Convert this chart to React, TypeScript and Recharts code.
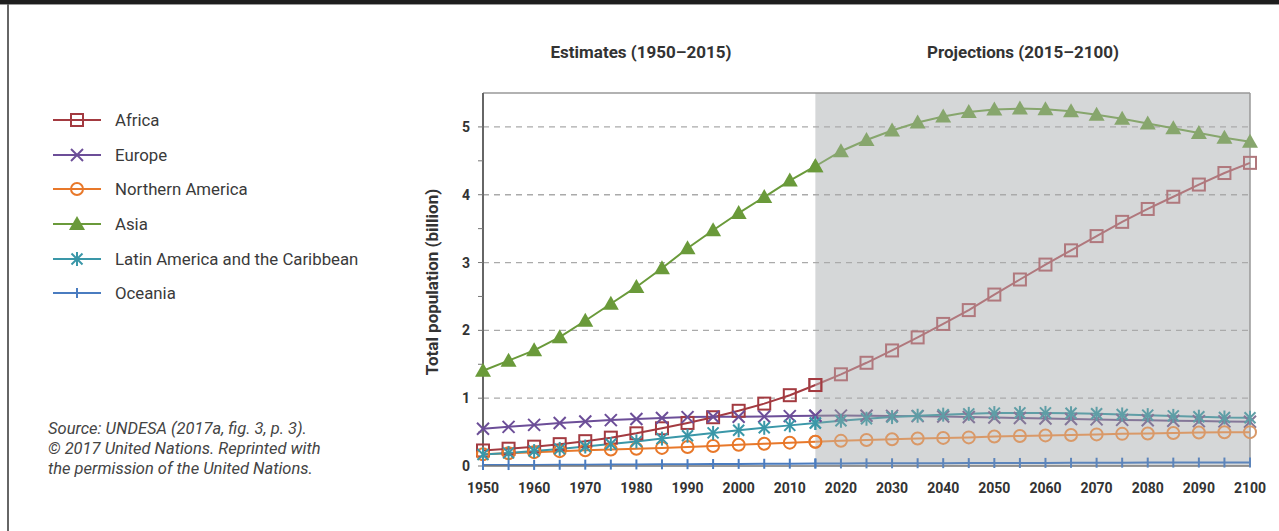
import React from "react";
import { LineChart, Line, XAxis, YAxis, ReferenceArea, ReferenceLine } from "recharts";

const years = [
  1950, 1955, 1960, 1965, 1970, 1975, 1980, 1985, 1990, 1995, 2000, 2005, 2010, 2015, 2020, 2025,
  2030, 2035, 2040, 2045, 2050, 2055, 2060, 2065, 2070, 2075, 2080, 2085, 2090, 2095, 2100,
];

const africa = [
  0.229, 0.255, 0.285, 0.322, 0.366, 0.418, 0.482, 0.556, 0.635, 0.719, 0.814, 0.92, 1.044, 1.194,
  1.352, 1.522, 1.704, 1.896, 2.095, 2.299, 2.528, 2.75, 2.97, 3.18, 3.39, 3.6, 3.79, 3.97, 4.15,
  4.32, 4.47,
];
const europe = [
  0.549, 0.577, 0.606, 0.635, 0.657, 0.677, 0.694, 0.708, 0.721, 0.727, 0.726, 0.729, 0.736, 0.741,
  0.743, 0.741, 0.739, 0.735, 0.73, 0.723, 0.716, 0.708, 0.7, 0.693, 0.687, 0.68, 0.674, 0.668,
  0.662, 0.658, 0.653,
];
const northernAmerica = [
  0.173, 0.187, 0.204, 0.219, 0.231, 0.242, 0.254, 0.267, 0.28, 0.296, 0.313, 0.328, 0.344, 0.358,
  0.371, 0.384, 0.395, 0.405, 0.414, 0.422, 0.435, 0.443, 0.451, 0.458, 0.466, 0.474, 0.48, 0.487,
  0.493, 0.497, 0.499,
];
const asia = [
  1.405, 1.553, 1.705, 1.9, 2.142, 2.393, 2.64, 2.915, 3.21, 3.476, 3.73, 3.966, 4.209, 4.42, 4.641,
  4.807, 4.947, 5.064, 5.154, 5.219, 5.257, 5.27, 5.26, 5.23, 5.18, 5.12, 5.05, 4.98, 4.91, 4.84,
  4.78,
];
const latinAmerica = [
  0.169, 0.193, 0.22, 0.252, 0.287, 0.324, 0.363, 0.404, 0.446, 0.488, 0.526, 0.563, 0.599, 0.634,
  0.667, 0.697, 0.721, 0.741, 0.757, 0.769, 0.78, 0.783, 0.783, 0.778, 0.77, 0.76, 0.75, 0.739,
  0.727, 0.715, 0.712,
];
const oceania = [
  0.013, 0.014, 0.016, 0.018, 0.02, 0.021, 0.023, 0.025, 0.027, 0.029, 0.031, 0.033, 0.035, 0.037,
  0.038, 0.039, 0.04, 0.041, 0.042, 0.043, 0.044, 0.045, 0.046, 0.047, 0.048, 0.049, 0.05, 0.05,
  0.051, 0.051, 0.052,
];

const splitYear = 2015;
const xTicks = [1950, 1960, 1970, 1980, 1990, 2000, 2010, 2020, 2030, 2040, 2050, 2060, 2070, 2080, 2090, 2100];
const yTicks = [0, 0.5, 1, 1.5, 2, 2.5, 3, 3.5, 4, 4.5, 5];
const gridValues = [1, 2, 3, 4, 5];

type Shape = "square" | "x" | "circle" | "triangle" | "asterisk" | "tick";

// color = estimates, faded = same series seen through the grey projection band
const series: { key: string; name: string; color: string; faded: string; shape: Shape; values: number[] }[] = [
  { key: "africa", name: "Africa", color: "#a33a40", faded: "#b0787d", shape: "square", values: africa },
  { key: "europe", name: "Europe", color: "#6c4e98", faded: "#847798", shape: "x", values: europe },
  { key: "na", name: "Northern America", color: "#e8782a", faded: "#d99968", shape: "circle", values: northernAmerica },
  { key: "asia", name: "Asia", color: "#6a9a3a", faded: "#87a66d", shape: "triangle", values: asia },
  { key: "latam", name: "Latin America and the Caribbean", color: "#3a97a8", faded: "#5f9ea6", shape: "asterisk", values: latinAmerica },
  { key: "oceania", name: "Oceania", color: "#4a7cc0", faded: "#5d85bb", shape: "tick", values: oceania },
];

const data = years.map((year, i) => {
  const row: Record<string, number | null> = { year };
  series.forEach((s) => {
    row[s.key + "_est"] = year <= splitYear ? s.values[i] : null;
    row[s.key + "_proj"] = year >= splitYear ? s.values[i] : null;
  });
  return row;
});

function Marker({ cx, cy, shape, color }: { cx: number; cy: number; shape: Shape; color: string }) {
  switch (shape) {
    case "square":
      return <rect x={cx - 6} y={cy - 6} width={12} height={12} fill="none" stroke={color} strokeWidth={2} />;
    case "x":
      return (
        <g stroke={color} strokeWidth={2}>
          <line x1={cx - 6} y1={cy - 6} x2={cx + 6} y2={cy + 6} />
          <line x1={cx - 6} y1={cy + 6} x2={cx + 6} y2={cy - 6} />
        </g>
      );
    case "circle":
      return <circle cx={cx} cy={cy} r={6} fill="none" stroke={color} strokeWidth={2} />;
    case "triangle":
      return <polygon points={`${cx},${cy - 8} ${cx - 8},${cy + 6} ${cx + 8},${cy + 6}`} fill={color} />;
    case "asterisk":
      return (
        <g stroke={color} strokeWidth={2}>
          <line x1={cx - 5.5} y1={cy - 5.5} x2={cx + 5.5} y2={cy + 5.5} />
          <line x1={cx - 5.5} y1={cy + 5.5} x2={cx + 5.5} y2={cy - 5.5} />
          <line x1={cx} y1={cy - 7} x2={cx} y2={cy + 7} />
        </g>
      );
    case "tick":
    default:
      return <line x1={cx} y1={cy - 5} x2={cx} y2={cy + 5} stroke={color} strokeWidth={2} />;
  }
}

const makeDot = (shape: Shape, color: string, tag: string) => (props: any) => {
  const { cx, cy, index, value } = props;
  if (cx == null || cy == null || value == null) return <g key={`${tag}-${index}`} />;
  return (
    <g key={`${tag}-${index}`}>
      <Marker cx={cx} cy={cy} shape={shape} color={color} />
    </g>
  );
};

const FONT = "Roboto, 'Noto Sans', sans-serif";
const tickStyle = { fill: "#333", fontSize: 14, fontWeight: 700, fontFamily: FONT };

export default function App() {
  return (
    <div style={{ position: "fixed", left: 0, top: 0, width: 1279, height: 531, background: "#fff", overflow: "hidden" }}>
      <div style={{ position: "absolute", left: 0, top: 0, width: 1279, height: 4, background: "#1e1e1e" }} />
      <div style={{ position: "absolute", left: 0, top: 4, width: 1279, height: 1, background: "#9a9a9a" }} />
      <div style={{ position: "absolute", left: 7, top: 4, width: 1.5, height: 527, background: "#666" }} />

      <div style={{ position: "absolute", left: 541, width: 200, top: 42, textAlign: "center", fontFamily: FONT, fontWeight: 700, fontSize: 17, color: "#333" }}>
        Estimates (1950–2015)
      </div>
      <div style={{ position: "absolute", left: 923, width: 200, top: 42, textAlign: "center", fontFamily: FONT, fontWeight: 700, fontSize: 17, color: "#333" }}>
        Projections (2015–2100)
      </div>
      <div
        style={{
          position: "absolute",
          left: 322,
          top: 272,
          width: 220,
          textAlign: "center",
          transform: "rotate(-90deg)",
          fontFamily: FONT,
          fontWeight: 700,
          fontSize: 17,
          color: "#333",
        }}
      >
        Total population (billion)
      </div>

      {/* legend */}
      <div style={{ position: "absolute", left: 53, top: 103, fontFamily: FONT }}>
        {series.map((s) => (
          <div key={s.key} style={{ display: "flex", alignItems: "center", height: 34.6 }}>
            <svg width={50} height={20}>
              <line x1={0} y1={10} x2={48} y2={10} stroke={s.color} strokeWidth={2} />
              <Marker cx={24} cy={10} shape={s.shape} color={s.color} />
            </svg>
            <span style={{ marginLeft: 12, fontSize: 16.8, color: "#3a3a3a" }}>{s.name}</span>
          </div>
        ))}
      </div>

      <div style={{ position: "absolute", left: 48, top: 419, fontFamily: FONT, fontStyle: "italic", fontSize: 16.5, lineHeight: "20px", color: "#444" }}>
        Source: UNDESA (2017a, fig. 3, p. 3).
        <br />© 2017 United Nations. Reprinted with
        <br />the permission of the United Nations.
      </div>

      <div style={{ position: "absolute", left: 0, top: 0 }}>
        <LineChart width={1279} height={531} data={data} margin={{ top: 93, right: 29, bottom: 35, left: 0 }}>
          <ReferenceArea x1={splitYear} x2={2100} y1={0} y2={5.5} fill="#d5d7d8" fillOpacity={1} stroke="none" />
          <XAxis
            dataKey="year"
            type="number"
            domain={[1950, 2100]}
            ticks={xTicks}
            tickLine={false}
            axisLine={{ stroke: "#777", strokeWidth: 1.5 }}
            tick={tickStyle}
            tickMargin={11}
            interval={0}
            height={30}
          />
          <YAxis
            type="number"
            domain={[0, 5.5]}
            ticks={yTicks}
            width={483}
            interval={0}
            tickFormatter={(v: number) => (Number.isInteger(v) ? String(v) : "")}
            tickSize={5}
            tickLine={{ stroke: "#777" }}
            axisLine={{ stroke: "#666", strokeWidth: 2 }}
            tick={tickStyle}
            tickMargin={8}
          />
          {gridValues.map((v) => (
            <ReferenceLine key={v} y={v} stroke="#aaa" strokeDasharray="6 5" strokeWidth={1.3} />
          ))}
          <ReferenceLine y={5.5} stroke="#999" strokeWidth={1.5} />
          <ReferenceLine x={2100} stroke="#999" strokeWidth={1.5} />
          {series.map((s) => (
            <Line
              key={s.key + "_proj"}
              dataKey={s.key + "_proj"}
              name={s.name}
              type="linear"
              stroke={s.faded}
              strokeWidth={2}
              dot={makeDot(s.shape, s.faded, s.key + "p")}
              activeDot={false}
              connectNulls={false}
              isAnimationActive={false}
            />
          ))}
          {series.map((s) => (
            <Line
              key={s.key + "_est"}
              dataKey={s.key + "_est"}
              name={s.name}
              type="linear"
              stroke={s.color}
              strokeWidth={2}
              dot={makeDot(s.shape, s.color, s.key + "e")}
              activeDot={false}
              connectNulls={false}
              isAnimationActive={false}
            />
          ))}
        </LineChart>
      </div>
    </div>
  );
}
